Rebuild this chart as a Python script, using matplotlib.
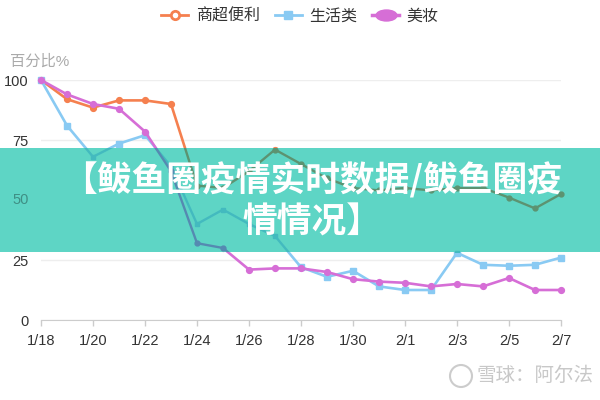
import numpy as np
import matplotlib
matplotlib.use('Agg')
import matplotlib.pyplot as plt
from matplotlib.patches import Rectangle, Ellipse
from matplotlib.lines import Line2D
from matplotlib.colors import to_rgb
from matplotlib.path import Path
from matplotlib.transforms import Affine2D, blended_transform_factory

plt.rcParams['font.family'] = ['Liberation Sans', 'Noto Sans CJK SC', 'DejaVu Sans']

# daily share (%) 1/18 .. 2/7
dates = ['1/18', '1/19', '1/20', '1/21', '1/22', '1/23', '1/24', '1/25', '1/26', '1/27',
         '1/28', '1/29', '1/30', '1/31', '2/1', '2/2', '2/3', '2/4', '2/5', '2/6', '2/7']
shangchao = [100, 92, 88.5, 91.5, 91.5, 90, 56, 55, 62, 71, 65, 59, 55, 54, 55, 54, 55, 55, 51, 46.5, 52.5]
shenghuo = [100, 81, 68, 73.5, 77, 64, 40, 46, 40, 35, 22, 18, 20.5, 14, 12.5, 12.5, 28, 23, 22.6, 23, 26]
meizhuang = [100, 94, 90, 88, 78.5, 62, 32, 30, 21, 21.5, 21.5, 20, 17, 16, 15.5, 14, 15, 14, 17.5, 12.5, 12.5]

names = ['商超便利', '生活类', '美妆']
series = [shangchao, shenghuo, meizhuang]
colors = ['#f5804f', '#89caf3', '#d66ed6']
markers = ['o', 's', 'o']
banner_color = '#5ed5c5'
title_lines = ['【鲅鱼圈疫情实时数据/鲅鱼圈疫', '情情况】']


def under_banner(c, k=0.62):
    # line seen through the banner: mostly a multiply of both colours
    a = np.array(to_rgb(c))
    b = np.array(to_rgb(banner_color))
    return tuple(k * a * b + (1 - k) * b)


fig = plt.figure(figsize=(6, 4), dpi=100)
ax = fig.add_axes([41 / 600, 0.2, 520 / 600, 0.6])
x = np.arange(len(dates))

for vals, c, m in zip(series, colors, markers):
    ax.plot(x, vals, color=c, lw=1.9, marker=m, ms=4.2, clip_on=False, zorder=3)

ax.set_xlim(0, len(dates) - 1)
ax.set_ylim(0, 100)
ax.set_yticks([0, 25, 50, 75, 100])
ax.set_xticks(x[::2])
ax.set_xticklabels(dates[::2])
for s in ['left', 'top', 'right']:
    ax.spines[s].set_visible(False)
ax.spines['bottom'].set_color('#cccccc')
ax.grid(axis='y', color='#eeeeee', lw=1)
ax.set_axisbelow(True)
ax.tick_params(axis='x', color='#cccccc', length=4, width=1, labelsize=10.5,
               labelcolor='#333333', pad=6)
ax.tick_params(axis='y', length=0, labelsize=10.5, labelcolor='#333333', pad=9)

fig.text(10 / 600, 1 - 62 / 400, '百分比%', fontsize=11, color='#aaaaaa', ha='left', va='center')

# banner over the middle of the chart
banner = Rectangle((0, 0.37), 1, 0.26, transform=fig.transFigure,
                   facecolor=banner_color, edgecolor='none', zorder=5)
ax.add_patch(banner)
banner.set_clip_on(False)

for vals, c, m in zip(series, colors, markers):
    ln, = ax.plot(x, vals, color=under_banner(c), lw=1.7, marker=m, ms=3.5, zorder=6)
    ln.set_clip_path(banner)

ax.text(-12 / 520, 50, '50', transform=blended_transform_factory(ax.transAxes, ax.transData),
        ha='right', va='center', fontsize=10.5, color='#3f8f85', zorder=7)

for txt, yy in zip(title_lines, [180, 222]):
    ax.text(312 / 600, 1 - yy / 400, txt, transform=fig.transFigure, ha='center', va='center',
            fontsize=25, fontweight='heavy', color='white', zorder=8,
            family=['Noto Sans CJK SC', 'DejaVu Sans'])

# legend
lips = Path.unit_circle().transformed(Affine2D().scale(1.9, 1))
handles = [
    Line2D([], [], color=colors[0], lw=2, marker='o', ms=6, mfc='white', mec=colors[0], mew=2),
    Line2D([], [], color=colors[1], lw=2, marker='s', ms=6),
    Line2D([], [], color=colors[2], lw=2.5, marker=lips, ms=15),
]
fig.legend(handles, names, loc='center', bbox_to_anchor=(0.5, 1 - 16 / 400), ncol=3,
           frameon=False, fontsize=11.5, handlelength=1.7, handletextpad=0.45,
           columnspacing=0.95, labelcolor='#333333')

# watermark
fig.patches.append(Ellipse((461 / 600, 1 - 376 / 400), 22 / 600, 22 / 400, transform=fig.transFigure,
                           facecolor='none', edgecolor='#cccccc', lw=1.5))
fig.text(476 / 600, 1 - 376 / 400, '雪球：阿尔法', fontsize=14, color='#c8c8c8',
         ha='left', va='center')

fig.savefig('out.png', dpi=100)
